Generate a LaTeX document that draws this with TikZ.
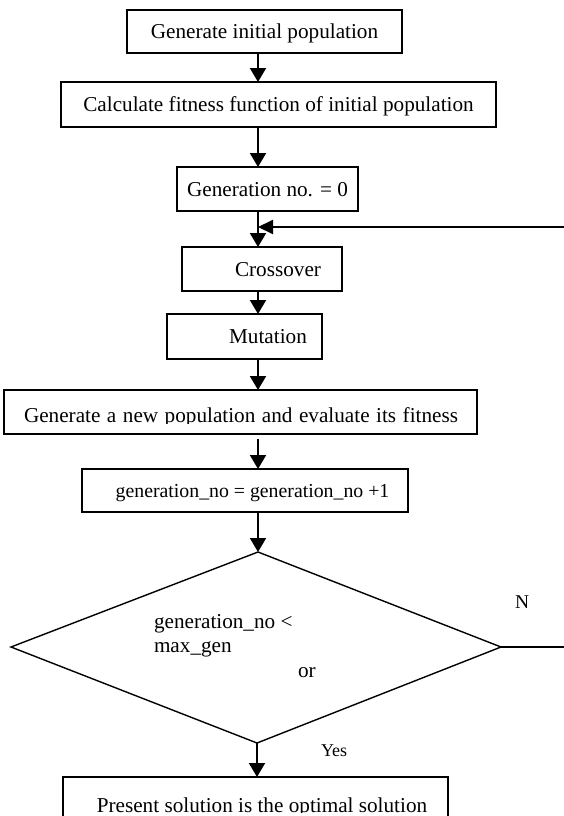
\documentclass[tikz,border=0pt]{standalone}
\usepackage{fontspec}
\setmainfont{Liberation Serif}
\usetikzlibrary{arrows.meta}
\newcommand{\mainfs}{\fontsize{21.2pt}{25pt}\selectfont}
\begin{document}
\begin{tikzpicture}[x=1pt,y=-1pt,
  box/.style={draw,line width=1.3pt,inner sep=0pt,outer sep=0pt,font=\mainfs,text height=14pt,text depth=0pt},
  conn/.style={line width=2pt,-{Triangle[width=16pt,length=14pt]}},
  fbconn/.style={line width=2pt,-{Triangle[width=14pt,length=15pt]}},
  plain/.style={line width=1.4pt},
  lbl/.style={inner sep=0pt,outer sep=0pt,font=\mainfs,anchor=base west}]
\useasboundingbox (0,0) rectangle (564,816);
\clip (0,0) rectangle (564,816);
\coordinate (axis) at (258,0);

% boxes
\node[box,minimum width=275pt,minimum height=43pt] (b1) at (264.5,31.5) {Generate initial population};
\node[box,minimum width=435pt,minimum height=45pt] (b2) at (278.5,104.5) {Calculate fitness function of initial population};
\node[box,minimum width=181pt,minimum height=44pt] (b3) at (267.5,189) {Generation no. = 0};
\node[box,minimum width=160pt,minimum height=44pt] (b4) at (262,269) {\hspace*{32pt}Crossover};
\node[box,minimum width=155pt,minimum height=45pt] (b5) at (244.5,336.5) {\hspace*{47pt}Mutation};
\node[box,minimum width=473pt,minimum height=44pt] (b6) at (240.5,412) {};
\begin{scope}
  \clip (4,390) rectangle (477,423.2);
  \node[lbl,anchor=base] (t6) at (241,422.5) {\makebox[434pt][s]{Generate a new population and evaluate its fitness}};
\end{scope}
\node[box,minimum width=326pt,minimum height=43pt,font=\fontsize{19.8pt}{24pt}\selectfont] (b7) at (245,490.5) {\hspace*{15pt}generation\_no = generation\_no +1};

% decision
\coordinate (dtop) at (258,552);
\coordinate (dright) at (501,647);
\coordinate (dbot) at (257,743);
\coordinate (dleft) at (11,647);
\draw[plain] (dtop) -- (dright) -- (dbot) -- (dleft) -- cycle;
\node[lbl] (d1) at (154,628) {generation\_no <};
\node[lbl] (d2) at (154,652) {max\_gen};
\node[lbl] (d3) at (298,677) {or};
\node[lbl,font=\fontsize{19.5pt}{23pt}\selectfont] (nlab) at (515,608) {N};
\node[lbl,font=\fontsize{18pt}{22pt}\selectfont] (ylab) at (321,756) {Yes};

% final box
\node[box,minimum width=385pt,minimum height=60pt] (b8) at (255.5,807) {};
\begin{scope}
  \clip (63,777) rectangle (448,812.8);
  \node[lbl,anchor=base] (t8) at (262,812) {Present solution is the optimal solution};
\end{scope}

% connectors
\draw[conn] (b1.south -| axis) -- (b2.north -| axis);
\draw[conn] (b2.south -| axis) -- (b3.north -| axis);
\draw[conn] (b3.south -| axis) -- (b4.north -| axis);
\draw[conn] (b4.south -| axis) -- (b5.north -| axis);
\draw[conn] (b5.south -| axis) -- (b6.north -| axis);
\draw[conn,shorten <=5pt] (b6.south -| axis) -- (b7.north -| axis);
\draw[conn] (b7.south -| axis) -- (dtop);
\draw[conn] (dbot) -- (b8.north -| dbot);

% loop back
\coordinate (nR) at (566,647);
\draw[plain] (dright) -- (nR);
\coordinate (fbR) at (566,227);
\coordinate (fbL) at (258,227);
\draw[fbconn] (fbR) -- (fbL);
\end{tikzpicture}
\end{document}
